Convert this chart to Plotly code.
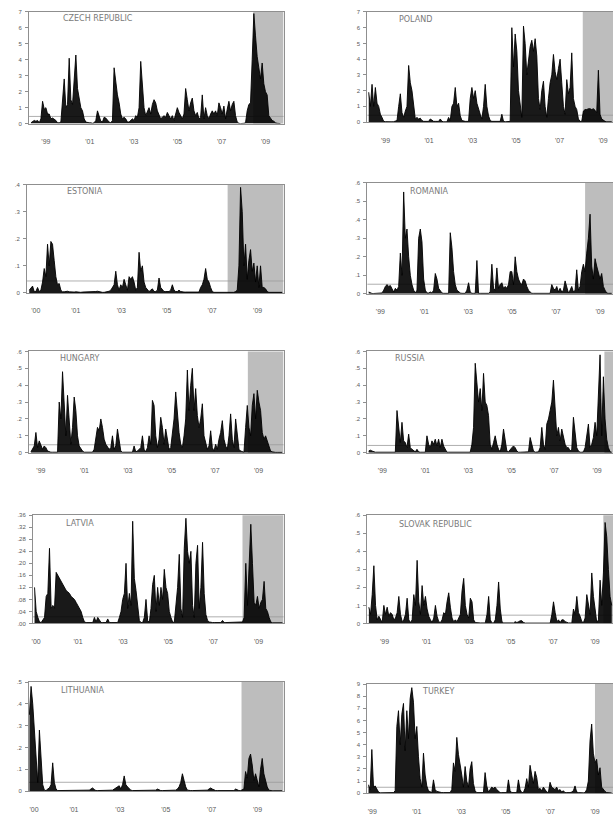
import numpy as np
import plotly.graph_objects as go

W, H = 613, 825

countries = ["CZECH REPUBLIC", "POLAND", "ESTONIA", "ROMANIA", "HUNGARY",
             "RUSSIA", "LATVIA", "SLOVAK REPUBLIC", "LITHUANIA", "TURKEY"]

cz_values = [
    0.05, 0.1, 0.2, 0.15, 0.2, 0.05, 0.3, 1.4, 0.9, 1.0,
    0.6, 0.6, 0.3, 0.35, 0.3, 0.2, 0.05, 0.05, 0.1, 1.8,
    2.8, 1.0, 1.2, 4.1, 1.5, 1.2, 2.5, 4.3, 2.2, 1.6,
    1.0, 0.8, 0.3, 0.1, 0.05, 0.05, 0.05, 0.02, 0.05, 0.2,
    0.8, 0.5, 0.15, 0.1, 0.4, 0.35, 0.2, 0.1, 0.05, 0.2,
    3.5, 2.6, 1.8, 1.3, 0.6, 0.3, 0.4, 0.3, 0.1, 0.1,
    0.2, 0.3, 0.2, 0.5, 0.4, 1.0, 3.9, 2.6, 1.0, 0.5,
    0.8, 1.0, 0.6, 1.2, 1.5, 1.3, 0.8, 0.6, 0.3, 0.4,
    0.5, 0.4, 0.7, 0.5, 0.3, 0.5, 0.2, 0.6, 1.0, 0.7,
    0.5, 0.3, 0.6, 2.2, 1.5, 0.8, 1.3, 1.6, 0.8, 0.5,
    0.7, 0.3, 0.4, 1.8, 0.3, 1.0, 0.5, 0.3, 0.6, 0.8,
    0.6, 0.8, 0.5, 1.3, 1.0, 0.6, 1.1, 0.3, 0.9, 1.4,
    0.8, 1.2, 1.4, 0.5, 0.1, 0.02, 0.0, 0.0, 0.02, 0.05,
    0.8, 1.2, 1.3, 4.0, 6.9, 5.5, 4.2, 3.5, 2.8, 3.8,
    2.5, 2.0, 1.8, 0.5, 0.3, 0.2, 0.15, 0.05, 0.02, 0.0,
    0.0]

pl_values = [
    1.9, 1.0, 2.4, 1.0, 2.2, 1.2, 1.0, 0.5, 0.3, 0.05,
    0.03, 0.02, 0.02, 0.02, 0.02, 0.03, 0.05, 0.1, 1.0, 1.8,
    0.6, 0.3, 0.7, 1.0, 3.6, 2.5, 2.0, 1.0, 0.2, 0.3,
    0.2, 0.25, 0.1, 0.05, 0.05, 0.05, 0.05, 0.2, 0.1, 0.05,
    0.05, 0.05, 0.05, 0.2, 0.05, 0.02, 0.02, 0.02, 0.3, 0.1,
    1.0, 1.2, 2.2, 1.0, 1.2, 0.4, 0.1, 0.05, 0.05, 0.05,
    0.05, 1.5, 2.2, 1.5, 2.0, 1.2, 0.8, 0.5, 0.2, 1.0,
    2.4, 1.0, 0.4, 0.1, 0.05, 0.05, 0.05, 0.05, 0.05, 0.05,
    0.5, 0.05, 0.02, 0.02, 0.02, 0.05, 6.0, 3.5, 5.6, 4.5,
    2.0, 1.0, 0.3, 6.1, 5.0, 3.0, 4.0, 4.8, 5.2, 4.5,
    5.3, 4.2, 1.5, 0.8, 2.0, 2.6, 1.0, 0.3, 1.5, 2.5,
    3.0, 4.3, 3.2, 2.7, 3.4, 4.0, 2.5, 1.0, 0.5, 2.7,
    1.8, 2.2, 4.4, 1.5, 1.0, 0.8, 0.2, 0.05, 0.05, 0.7,
    0.8, 0.8, 0.85, 0.85, 0.8, 0.85, 0.75, 0.6, 3.3, 0.5,
    0.2, 0.1, 0.05, 0.02, 0.02, 0.02, 0.02]

ee_values = [
    0.01, 0.02, 0.025, 0.005, 0.005, 0.02, 0.005, 0.01, 0.04, 0.09,
    0.06, 0.18, 0.1, 0.19, 0.18, 0.12, 0.06, 0.03, 0.035, 0.01,
    0.004, 0.004, 0.005, 0.006, 0.004, 0.003, 0.003, 0.003, 0.004, 0.003,
    0.003, 0.002, 0.003, 0.003, 0.004, 0.005, 0.003, 0.003, 0.003, 0.004,
    0.005, 0.006, 0.004, 0.003, 0.002, 0.002, 0.003, 0.004, 0.006, 0.01,
    0.02, 0.03, 0.08, 0.03, 0.01, 0.03, 0.02, 0.05, 0.03, 0.01,
    0.06, 0.05, 0.06, 0.04, 0.01, 0.02, 0.15, 0.08, 0.1, 0.04,
    0.02, 0.01, 0.005, 0.01, 0.015, 0.005, 0.005, 0.01, 0.055, 0.02,
    0.01, 0.005, 0.005, 0.005, 0.005, 0.01, 0.03, 0.01, 0.005, 0.005,
    0.01, 0.005, 0.003, 0.003, 0.003, 0.003, 0.003, 0.003, 0.003, 0.003,
    0.003, 0.003, 0.003, 0.02, 0.03, 0.05, 0.09, 0.05, 0.04, 0.02,
    0.005, 0.002, 0.002, 0.002, 0.002, 0.002, 0.002, 0.002, 0.002, 0.002,
    0.002, 0.002, 0.002, 0.002, 0.005, 0.01, 0.1, 0.39, 0.3, 0.1,
    0.18, 0.05, 0.12, 0.16, 0.08, 0.11, 0.04, 0.1, 0.02, 0.1,
    0.02, 0.02, 0.015, 0.005, 0.002, 0.002, 0.002, 0.002, 0.002, 0.002,
    0.002, 0.002, 0.002]

ro_values = [
    0.01, 0.005, 0.002, 0.002, 0.002, 0.002, 0.002, 0.002, 0.005, 0.02,
    0.04, 0.05, 0.04, 0.045, 0.03, 0.01, 0.03, 0.02, 0.04, 0.22,
    0.1, 0.55, 0.3, 0.35, 0.2, 0.1, 0.05, 0.02, 0.005, 0.02,
    0.3, 0.35, 0.28, 0.08, 0.02, 0.005, 0.005, 0.01, 0.005, 0.02,
    0.11, 0.08, 0.03, 0.02, 0.005, 0.003, 0.003, 0.003, 0.003, 0.33,
    0.25, 0.12, 0.05, 0.02, 0.01, 0.005, 0.003, 0.003, 0.003, 0.02,
    0.06, 0.01, 0.003, 0.003, 0.003, 0.18, 0.003, 0.003, 0.003, 0.003,
    0.003, 0.003, 0.003, 0.01, 0.16, 0.03, 0.02, 0.14, 0.03, 0.05,
    0.06, 0.03, 0.04, 0.03, 0.05, 0.12, 0.12, 0.05, 0.2, 0.12,
    0.08, 0.06, 0.05, 0.08, 0.07, 0.04, 0.02, 0.01, 0.003, 0.003,
    0.003, 0.003, 0.003, 0.003, 0.003, 0.003, 0.003, 0.003, 0.003, 0.003,
    0.05, 0.03, 0.02, 0.04, 0.01, 0.03, 0.01, 0.02, 0.07, 0.03,
    0.005, 0.02, 0.04, 0.01, 0.02, 0.13, 0.02, 0.04, 0.12, 0.16,
    0.12, 0.22, 0.3, 0.43, 0.15, 0.08, 0.19, 0.15, 0.12, 0.08,
    0.11, 0.04, 0.02, 0.005, 0.003, 0.003, 0.003]

hu_values = [
    0.005, 0.02, 0.04, 0.12, 0.03, 0.07, 0.05, 0.02, 0.04, 0.03,
    0.01, 0.005, 0.003, 0.003, 0.003, 0.003, 0.003, 0.3, 0.2, 0.48,
    0.25, 0.1, 0.34, 0.2, 0.05, 0.15, 0.33, 0.25, 0.1, 0.04,
    0.02, 0.01, 0.003, 0.003, 0.003, 0.003, 0.003, 0.003, 0.02, 0.1,
    0.15, 0.13, 0.2, 0.15, 0.08, 0.05, 0.03, 0.02, 0.03, 0.1,
    0.02, 0.04, 0.14, 0.08, 0.01, 0.003, 0.003, 0.003, 0.003, 0.003,
    0.003, 0.003, 0.04, 0.005, 0.01, 0.02, 0.03, 0.1, 0.02, 0.005,
    0.03, 0.1, 0.05, 0.31, 0.28, 0.1, 0.03, 0.08, 0.21, 0.15,
    0.05, 0.14, 0.08, 0.02, 0.03, 0.1, 0.2, 0.36, 0.22, 0.12,
    0.05, 0.03, 0.1, 0.2, 0.49, 0.25, 0.4, 0.5, 0.25, 0.38,
    0.22, 0.15, 0.2, 0.29, 0.1, 0.05, 0.02, 0.04, 0.13, 0.03,
    0.01, 0.05, 0.02, 0.08, 0.12, 0.19, 0.08, 0.04, 0.02, 0.1,
    0.23, 0.08, 0.03, 0.2, 0.1, 0.02, 0.01, 0.005, 0.003, 0.15,
    0.28, 0.15, 0.1, 0.28, 0.35, 0.2, 0.37, 0.3, 0.25, 0.12,
    0.08, 0.1, 0.07, 0.03, 0.01, 0.005, 0.002, 0.002, 0.002, 0.002,
    0.002, 0.002]

ru_values = [
    0.01, 0.015, 0.01, 0.005, 0.003, 0.003, 0.003, 0.003, 0.003, 0.003,
    0.003, 0.003, 0.003, 0.003, 0.003, 0.003, 0.003, 0.25, 0.17, 0.06,
    0.18, 0.07, 0.06, 0.03, 0.11, 0.03, 0.02, 0.01, 0.005, 0.02,
    0.005, 0.003, 0.003, 0.003, 0.003, 0.1, 0.05, 0.03, 0.07, 0.05,
    0.08, 0.04, 0.08, 0.03, 0.08, 0.04, 0.02, 0.003, 0.003, 0.003,
    0.003, 0.003, 0.003, 0.003, 0.005, 0.003, 0.003, 0.003, 0.003, 0.003,
    0.003, 0.003, 0.05, 0.15, 0.53, 0.4, 0.3, 0.38, 0.25, 0.47,
    0.3, 0.28, 0.22, 0.05, 0.02, 0.06, 0.1, 0.05, 0.02, 0.005,
    0.05, 0.14, 0.06, 0.01, 0.005, 0.02, 0.03, 0.04, 0.03, 0.01,
    0.003, 0.003, 0.003, 0.003, 0.003, 0.003, 0.005, 0.09, 0.05, 0.01,
    0.003, 0.003, 0.005, 0.03, 0.15, 0.05, 0.02, 0.17, 0.2, 0.25,
    0.3, 0.43, 0.25, 0.1, 0.15, 0.07, 0.14, 0.1, 0.05, 0.03,
    0.03, 0.01, 0.02, 0.21, 0.1, 0.03, 0.01, 0.003, 0.003, 0.005,
    0.03, 0.1, 0.17, 0.03, 0.05, 0.09, 0.18, 0.1, 0.35, 0.58,
    0.1, 0.45, 0.2, 0.08, 0.03, 0.005, 0.003]

lv_values = [
    0.12, 0.04, 0.02, 0.005, 0.003, 0.01, 0.02, 0.09, 0.1, 0.25,
    0.05, 0.06, 0.05, 0.17, 0.16, 0.15, 0.14, 0.13, 0.12, 0.11,
    0.105, 0.1, 0.09, 0.085, 0.08, 0.07, 0.06, 0.05, 0.04, 0.02,
    0.005, 0.003, 0.003, 0.003, 0.003, 0.003, 0.02, 0.005, 0.02, 0.01,
    0.003, 0.003, 0.003, 0.003, 0.015, 0.003, 0.003, 0.003, 0.003, 0.003,
    0.003, 0.02, 0.04, 0.08, 0.1, 0.2, 0.05, 0.1, 0.06, 0.34,
    0.15, 0.11, 0.05, 0.01, 0.003, 0.003, 0.02, 0.08, 0.01, 0.003,
    0.05, 0.13, 0.16, 0.04, 0.12, 0.06, 0.12, 0.08, 0.18, 0.12,
    0.1, 0.04, 0.02, 0.005, 0.003, 0.06, 0.12, 0.23, 0.05, 0.02,
    0.25, 0.35, 0.24, 0.2, 0.24, 0.06, 0.02, 0.2, 0.26, 0.05,
    0.12, 0.27, 0.1, 0.03, 0.01, 0.005, 0.003, 0.003, 0.003, 0.003,
    0.003, 0.003, 0.003, 0.01, 0.003, 0.003, 0.003, 0.003, 0.003, 0.003,
    0.003, 0.003, 0.003, 0.003, 0.003, 0.005, 0.02, 0.2, 0.06, 0.23,
    0.33, 0.2, 0.07, 0.06, 0.09, 0.05, 0.07, 0.08, 0.14, 0.05,
    0.04, 0.02, 0.005, 0.002, 0.002, 0.002, 0.002, 0.002, 0.002, 0.002]

sk_values = [
    0.09, 0.05, 0.16, 0.32, 0.1, 0.02, 0.04, 0.02, 0.005, 0.1,
    0.05, 0.09, 0.04, 0.06, 0.05, 0.02, 0.03, 0.06, 0.15, 0.05,
    0.01, 0.02, 0.05, 0.14, 0.02, 0.005, 0.02, 0.16, 0.1, 0.35,
    0.12, 0.05, 0.21, 0.1, 0.15, 0.08, 0.04, 0.02, 0.005, 0.03,
    0.1, 0.04, 0.01, 0.005, 0.02, 0.06, 0.05, 0.12, 0.17, 0.09,
    0.03, 0.01, 0.02, 0.01, 0.03, 0.05, 0.18, 0.25, 0.1, 0.05,
    0.03, 0.14, 0.12, 0.02, 0.005, 0.003, 0.003, 0.003, 0.003, 0.003,
    0.003, 0.05, 0.15, 0.02, 0.003, 0.003, 0.02, 0.1, 0.23, 0.08,
    0.01, 0.003, 0.003, 0.003, 0.003, 0.003, 0.003, 0.003, 0.01, 0.005,
    0.01, 0.015, 0.015, 0.005, 0.002, 0.002, 0.002, 0.002, 0.002, 0.002,
    0.002, 0.002, 0.002, 0.002, 0.002, 0.002, 0.002, 0.002, 0.002, 0.002,
    0.05, 0.12, 0.06, 0.01, 0.02, 0.005, 0.02, 0.02, 0.01, 0.005,
    0.003, 0.003, 0.003, 0.08, 0.05, 0.15, 0.06, 0.04, 0.01, 0.005,
    0.03, 0.16, 0.1, 0.05, 0.28, 0.15, 0.08, 0.005, 0.02, 0.24,
    0.1, 0.28, 0.56, 0.48, 0.3, 0.15, 0.1]

lt_values = [
    0.35, 0.48, 0.4, 0.28, 0.12, 0.04, 0.28, 0.15, 0.03, 0.005,
    0.003, 0.01, 0.015, 0.03, 0.13, 0.04, 0.01, 0.003, 0.003, 0.003,
    0.003, 0.003, 0.003, 0.003, 0.003, 0.003, 0.003, 0.003, 0.003, 0.003,
    0.003, 0.003, 0.003, 0.003, 0.003, 0.003, 0.005, 0.01, 0.015, 0.008,
    0.003, 0.003, 0.003, 0.003, 0.003, 0.003, 0.003, 0.003, 0.003, 0.003,
    0.005, 0.01, 0.015, 0.02, 0.025, 0.01, 0.03, 0.07, 0.03, 0.02,
    0.01, 0.005, 0.003, 0.003, 0.003, 0.003, 0.003, 0.003, 0.003, 0.003,
    0.003, 0.003, 0.003, 0.003, 0.003, 0.003, 0.005, 0.01, 0.005, 0.003,
    0.003, 0.003, 0.003, 0.003, 0.003, 0.003, 0.003, 0.003, 0.005, 0.01,
    0.02, 0.04, 0.08, 0.05, 0.02, 0.005, 0.003, 0.003, 0.003, 0.003,
    0.003, 0.003, 0.003, 0.003, 0.003, 0.003, 0.003, 0.005, 0.01, 0.015,
    0.01, 0.005, 0.003, 0.003, 0.003, 0.003, 0.003, 0.003, 0.003, 0.003,
    0.003, 0.003, 0.003, 0.003, 0.01, 0.005, 0.003, 0.003, 0.005, 0.01,
    0.09, 0.06, 0.15, 0.17, 0.12, 0.05, 0.08, 0.05, 0.02, 0.1,
    0.15, 0.08, 0.05, 0.02, 0.005, 0.002, 0.002, 0.002, 0.002, 0.002,
    0.002, 0.002, 0.002]

tr_values = [
    0.7, 0.3, 3.6, 0.5, 0.6, 0.4, 0.1, 0.03, 0.03, 0.03,
    0.03, 0.03, 0.03, 0.03, 0.03, 0.05, 0.2, 5.5, 6.8, 4.0,
    6.5, 7.4, 3.5, 6.8, 4.5, 7.8, 8.7, 7.5, 4.5, 5.5,
    3.0, 1.2, 0.5, 3.3, 1.5, 0.6, 0.2, 0.1, 0.05, 1.1,
    0.3, 0.15, 0.1, 0.05, 0.05, 0.05, 0.05, 0.05, 0.05, 0.05,
    0.3, 2.5, 1.8, 4.6, 3.2, 2.5, 1.5, 0.5, 2.2, 1.0,
    0.5, 2.0, 2.6, 0.8, 0.2, 0.05, 0.05, 0.03, 0.03, 0.05,
    1.7, 0.6, 0.1, 0.3, 0.5, 0.4, 0.5, 0.3, 0.2, 0.05,
    0.05, 0.03, 0.03, 0.05, 1.1, 0.2, 0.05, 0.05, 0.03, 0.05,
    1.1, 0.3, 0.05, 0.05, 0.4, 1.2, 0.5, 2.3, 1.5, 0.8,
    1.8, 1.3, 0.3, 0.4, 0.2, 0.5, 0.3, 0.1, 0.05, 0.9,
    0.5, 0.4, 0.3, 0.5, 0.2, 0.3, 0.1, 0.2, 0.05, 0.05,
    0.03, 0.05, 0.1, 0.2, 0.6, 0.1, 0.05, 0.03, 0.03, 0.03,
    0.05, 0.3, 1.0, 4.3, 5.7, 3.3, 2.5, 2.8, 1.5, 2.1,
    0.5, 0.3, 0.15, 0.05, 0.03, 0.02, 0.02]

series = [cz_values, pl_values, ee_values, ro_values, hu_values,
          ru_values, lv_values, sk_values, lt_values, tr_values]

# first and last observation date (decimal years) of each series
data_spans = [[1998.32, 2009.68], [1998.23, 2009.40], [1998.95, 2010.08],
              [1998.47, 2009.53], [1998.54, 2010.09], [1998.36, 2009.68],
              [1999.07, 2010.06], [1998.26, 2009.79], [1999.06, 2010.07],
              [1998.83, 2009.75]]

x_ranges = [[1998.23, 2009.82], [1998.17, 2009.46], [1998.85, 2010.14],
            [1998.41, 2009.59], [1998.45, 2010.15], [1998.30, 2009.74],
            [1999.00, 2010.11], [1998.19, 2009.85], [1999.04, 2010.13],
            [1998.78, 2009.81]]

crisis_start = [2008.44, 2008.07, 2007.68, 2008.32, 2008.51,
                2009.34, 2008.29, 2009.39, 2008.30, 2009.00]

thresholds = [0.45, 0.44, 0.044, 0.052, 0.047, 0.043, 0.022, 0.046, 0.041, 0.49]

y_max = [7, 7, 0.4, 0.6, 0.6, 0.6, 0.36, 0.6, 0.5, 9]

lbl_int7 = ["0", "1", "2", "3", "4", "5", "6", "7"]
lbl_dec6 = ["0", ".1", ".2", ".3", ".4", ".5", ".6"]
y_tickvals = [
    [0, 1, 2, 3, 4, 5, 6, 7], [0, 1, 2, 3, 4, 5, 6, 7],
    [0, 0.1, 0.2, 0.3, 0.4], [0, 0.1, 0.2, 0.3, 0.4, 0.5, 0.6],
    [0, 0.1, 0.2, 0.3, 0.4, 0.5, 0.6], [0, 0.1, 0.2, 0.3, 0.4, 0.5, 0.6],
    [0, 0.04, 0.08, 0.12, 0.16, 0.20, 0.24, 0.28, 0.32, 0.36],
    [0, 0.1, 0.2, 0.3, 0.4, 0.5, 0.6],
    [0, 0.1, 0.2, 0.3, 0.4, 0.5],
    [0, 1, 2, 3, 4, 5, 6, 7, 8, 9]]
y_ticktext = [
    lbl_int7, lbl_int7, ["0", ".1", ".2", ".3", ".4"], lbl_dec6, lbl_dec6, lbl_dec6,
    [".00", ".04", ".08", ".12", ".16", ".20", ".24", ".28", ".32", ".36"],
    lbl_dec6, ["0", ".1", ".2", ".3", ".4", ".5"],
    ["0", "1", "2", "3", "4", "5", "6", "7", "8", "9"]]

years_a = [1999, 2001, 2003, 2005, 2007, 2009]
text_a = ["'99", "'01", "'03", "'05", "'07", "'09"]
text_b = ["'00", "'01", "'03", "'05", "'07", "'09"]
x_tickvals = [years_a, years_a, [1999.24, 2001, 2003, 2005, 2007, 2009], years_a,
              years_a, years_a, [1999.14, 2001, 2003, 2005, 2007, 2009], years_a,
              [1999.26, 2001, 2003, 2005, 2007, 2009], years_a]
x_ticktext = [text_a, text_a, text_b, text_a, text_a, text_a, text_b, text_a, text_b, text_a]

# panel boxes in pixels: left, right, top, bottom
boxes = [(28, 283, 9, 121.5), (367, 613, 9, 120),
         (26, 283, 183, 292), (367, 613, 181, 293),
         (28, 283, 351, 453), (367, 613, 351, 453),
         (32, 283, 516, 625), (367, 613, 516, 625),
         (28, 283, 684, 794), (367, 613, 686, 796)]
label_px = [(60, 16), (397, 17), (64, 190), (408, 190), (57, 358),
            (393, 358), (63, 524), (397, 525), (58, 693), (420, 694)]

FONT = "Liberation Sans"
AXC = "#8f8f8f"
TXT = "#5a5a5a"

fig = go.Figure()
shapes = []
annotations = []
for i in range(10):
    n = "" if i == 0 else str(i + 1)
    xs = np.linspace(data_spans[i][0], data_spans[i][1], len(series[i]))
    fig.add_trace(go.Scatter(
        x=xs, y=series[i], mode="lines",
        line=dict(color="black", width=0.9),
        fill="tozeroy", fillcolor="rgba(0,0,0,0.9)",
        xaxis="x" + n, yaxis="y" + n, hoverinfo="skip", showlegend=False))
    x0, x1, yt, yb = boxes[i]
    left_col = (i % 2 == 0)
    fig.layout["xaxis" + n] = dict(
        domain=[x0 / W, x1 / W], anchor="y" + n, range=x_ranges[i],
        tickvals=x_tickvals[i], ticktext=x_ticktext[i],
        showline=True, linecolor=AXC, linewidth=1, mirror=True,
        ticks="", showgrid=False, zeroline=False,
        tickfont=dict(size=7, color=TXT, family=FONT),
        ticklabelstandoff=11)
    fig.layout["yaxis" + n] = dict(
        domain=[1 - yb / H, 1 - yt / H], anchor="x" + n, range=[0, y_max[i]],
        tickvals=y_tickvals[i], ticktext=y_ticktext[i],
        showline=True, linecolor=AXC, linewidth=1, mirror=left_col,
        ticks="outside", ticklen=3, tickwidth=1, tickcolor=AXC,
        showgrid=False, zeroline=False,
        tickfont=dict(size=6, color=TXT, family=FONT),
        ticklabelstandoff=2)
    shapes.append(dict(type="rect", xref="x" + n, yref="y" + n + " domain",
                       x0=crisis_start[i], x1=x_ranges[i][1], y0=0, y1=1,
                       fillcolor="#bdbdbd", line=dict(width=0), layer="below"))
    shapes.append(dict(type="line", xref="x" + n + " domain", yref="y" + n,
                       x0=0, x1=1, y0=thresholds[i], y1=thresholds[i],
                       line=dict(color="#9a9a9a", width=0.8), layer="below"))
    lx, ly = label_px[i]
    annotations.append(dict(text=countries[i], xref="paper", yref="paper",
                            x=lx / W, y=1 - ly / H, xanchor="left", yanchor="middle",
                            showarrow=False,
                            font=dict(size=8, color="#7a7a7a", family="DejaVu Sans")))

fig.update_layout(width=W, height=H, margin=dict(l=0, r=0, t=0, b=0),
                  paper_bgcolor="white", plot_bgcolor="white",
                  shapes=shapes, annotations=annotations, showlegend=False)

fig.write_html("out.html", config={"displayModeBar": False},
               post_script="document.body.style.margin='0px';")
